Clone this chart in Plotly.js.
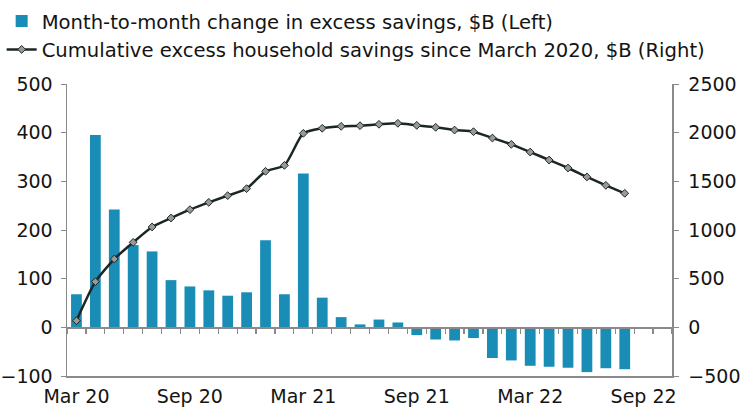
<!DOCTYPE html>
<html>
<head>
<meta charset="utf-8">
<script src="https://cdn.plot.ly/plotly-3.0.1.min.js"></script>
<style>
  html, body { margin: 0; padding: 0; background: #ffffff; }
  #chart { width: 750px; height: 416px; }
</style>
</head>
<body>
<div id="chart"></div>
<script>
// Monthly axis: Mar 2020 through Oct 2022 (last slot left empty)
const months = [
  'Mar 20','Apr 20','May 20','Jun 20','Jul 20','Aug 20','Sep 20','Oct 20','Nov 20','Dec 20',
  'Jan 21','Feb 21','Mar 21','Apr 21','May 21','Jun 21','Jul 21','Aug 21','Sep 21','Oct 21','Nov 21','Dec 21',
  'Jan 22','Feb 22','Mar 22','Apr 22','May 22','Jun 22','Jul 22','Aug 22','Sep 22','Oct 22'
];
const dataMonths = months.slice(0, 30);

// Month-to-month change in excess savings, $B (left axis)
const monthlyChange = [
  68, 395, 242, 169, 156, 97, 84, 76, 65, 72,
  179, 68, 316, 61, 21, 6, 16, 10, -16, -25, -27, -22,
  -63, -68, -79, -81, -83, -92, -84, -86
];

// Cumulative excess household savings since March 2020, $B (right axis)
const cumulativeSavings = [
  68, 469, 702, 873, 1031, 1123, 1209, 1284, 1353, 1425,
  1603, 1664, 1993, 2045, 2065, 2072, 2086, 2096, 2075, 2055, 2027, 2010,
  1945, 1880, 1801, 1719, 1637, 1545, 1459, 1377
];

const labelledMonths = ['Mar 20', 'Sep 20', 'Mar 21', 'Sep 21', 'Mar 22', 'Sep 22'];

const barColor = '#1a8db6';
const lineColor = '#1b2626';
const axisGray = '#8a8a8a';
const textFont = 'DejaVu Sans, Verdana, sans-serif';
const textColor = '#141414';

const traces = [
  {
    type: 'bar',
    name: 'Month-to-month change in excess savings, $B (Left)',
    x: dataMonths,
    y: monthlyChange,
    xaxis: 'x',
    yaxis: 'y',
    marker: { color: barColor, line: { width: 0 } },
    hoverinfo: 'x+y'
  },
  {
    type: 'scatter',
    mode: 'lines+markers',
    name: 'Cumulative excess household savings since March 2020, $B (Right)',
    x: dataMonths,
    y: cumulativeSavings,
    xaxis: 'x2',
    yaxis: 'y2',
    line: { color: lineColor, width: 2.5, shape: 'spline', smoothing: 0.6 },
    marker: { symbol: 'diamond', size: 6, color: '#999999', line: { color: lineColor, width: 1 } },
    hoverinfo: 'x+y'
  }
];

const layout = {
  width: 750,
  height: 416,
  margin: { l: 67, r: 78, t: 84, b: 40, autoexpand: false },
  paper_bgcolor: '#ffffff',
  plot_bgcolor: '#ffffff',
  font: { family: textFont, size: 19, color: textColor },
  bargap: 0.43,
  showlegend: true,
  legend: {
    xref: 'paper', yref: 'paper',
    x: -0.108, y: 1.282, xanchor: 'left', yanchor: 'top',
    font: { family: textFont, size: 19.6, color: textColor },
    bgcolor: 'rgba(0,0,0,0)',
    itemwidth: 30
  },
  xaxis: {
    type: 'category',
    categoryorder: 'array',
    categoryarray: months,
    range: [-0.5, 31.5],
    showgrid: false,
    zeroline: false,
    showline: true,
    linecolor: axisGray,
    linewidth: 1.5,
    ticks: '',
    tickmode: 'array',
    tickvals: labelledMonths,
    ticktext: labelledMonths,
    ticklabelstandoff: 3,
    tickfont: { family: textFont, size: 19, color: textColor },
    fixedrange: true
  },
  // zero line with a tick at every month boundary
  xaxis2: {
    type: 'category',
    categoryorder: 'array',
    categoryarray: months,
    range: [-0.5, 31.5],
    overlaying: 'x',
    anchor: 'free',
    position: 1 / 6,
    showgrid: false,
    zeroline: false,
    showline: true,
    linecolor: axisGray,
    linewidth: 1.5,
    ticks: 'outside',
    ticklen: 5,
    tickwidth: 1.2,
    tickcolor: axisGray,
    tickson: 'boundaries',
    tickmode: 'array',
    tickvals: months,
    showticklabels: false,
    fixedrange: true
  },
  yaxis: {
    range: [-100, 500],
    tickvals: [-100, 0, 100, 200, 300, 400, 500],
    showgrid: false,
    zeroline: false,
    showline: true,
    linecolor: axisGray,
    linewidth: 1.5,
    ticks: 'outside',
    ticklen: 5,
    tickcolor: axisGray,
    tickfont: { family: textFont, size: 19, color: textColor },
    ticklabelstandoff: 4,
    fixedrange: true
  },
  yaxis2: {
    range: [-500, 2500],
    tickvals: [-500, 0, 500, 1000, 1500, 2000, 2500],
    overlaying: 'y',
    side: 'right',
    anchor: 'x',
    showgrid: false,
    zeroline: false,
    showline: true,
    linecolor: axisGray,
    linewidth: 1.5,
    ticks: 'outside',
    ticklen: 5,
    tickcolor: axisGray,
    tickfont: { family: textFont, size: 19, color: textColor },
    ticklabelstandoff: 6,
    fixedrange: true
  }
};

Plotly.newPlot('chart', traces, layout, { displayModeBar: false, staticPlot: true });
</script>
</body>
</html>
